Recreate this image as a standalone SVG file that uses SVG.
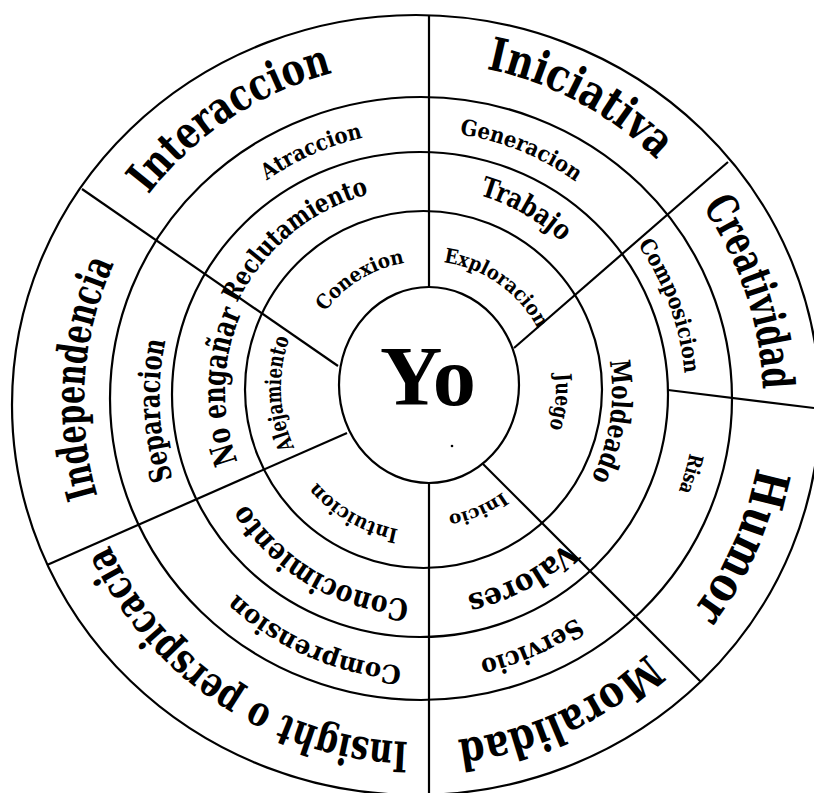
<svg xmlns="http://www.w3.org/2000/svg" xmlns:xlink="http://www.w3.org/1999/xlink" width="814" height="793" viewBox="0 0 814 793">
<style>
.ring{fill:none;stroke:#000;stroke-width:2.2}
.div{stroke:#000;stroke-width:2.2;fill:none}
.lbl{font-family:"DejaVu Serif Condensed","DejaVu Serif",serif;font-weight:bold;text-anchor:middle;fill:#000}
.yo{font-family:"Liberation Serif","Times New Roman",serif;font-weight:bold;text-anchor:middle;fill:#000}
</style>
<defs>
<path id="r340" d="M0,-340 A340,340 0 0 1 0,340"/>
<path id="r345" d="M0,-345 A345,345 0 0 1 0,345"/>
<path id="r334" d="M0,-334 A334,334 0 0 1 0,334"/>
<path id="r265" d="M0,-265 A265,265 0 0 1 0,265"/>
<path id="r270" d="M0,-270 A270,270 0 0 1 0,270"/>
<path id="r275" d="M0,-275 A275,275 0 0 1 0,275"/>
<path id="r261" d="M0,-261 A261,261 0 0 1 0,261"/>
<path id="r205" d="M0,-205 A205,205 0 0 1 0,205"/>
<path id="r208" d="M0,-208 A208,208 0 0 1 0,208"/>
<path id="r190" d="M0,-190 A190,190 0 0 1 0,190"/>
<path id="r197" d="M0,-197 A197,197 0 0 1 0,197"/>
<path id="r126" d="M0,-126 A126,126 0 0 1 0,126"/>
<path id="r130" d="M0,-130 A130,130 0 0 1 0,130"/>
<path id="r145" d="M0,-145 A145,145 0 0 1 0,145"/>
</defs>
<rect width="814" height="793" fill="#fff"/>
<g id="rings">
<ellipse class="ring" cx="416" cy="405" rx="404" ry="390"/>
<ellipse class="ring" cx="421" cy="398.5" rx="311" ry="301.5"/>
<ellipse class="ring" cx="420" cy="394.5" rx="248" ry="242.5"/>
<ellipse class="ring" cx="423.5" cy="389.5" rx="178.5" ry="178.5"/>
</g>
<g id="connectors">
<line class="div" x1="429" y1="15" x2="429" y2="287"/>
<line class="div" x1="429" y1="483" x2="429" y2="795"/>
<line class="div" x1="82" y1="189" x2="338" y2="366"/>
<line class="div" x1="47" y1="565" x2="347" y2="433"/>
<line class="div" x1="483" y1="464" x2="701" y2="682"/>
<line class="div" x1="514" y1="348" x2="728" y2="162"/>
<line class="div" x1="668" y1="390" x2="814" y2="408"/>
</g>
<g id="yo">
<ellipse class="ring" cx="429" cy="385" rx="90" ry="98"/>
<text class="yo" x="428" y="405" font-size="84" textLength="96" lengthAdjust="spacingAndGlyphs">Yo</text>
<circle cx="452" cy="446" r="1.3" fill="#000"/>
</g>
<g id="interaccion">
<text class="lbl" font-size="44" transform="translate(418,402) rotate(-123.5)"><textPath href="#r340" startOffset="50%" textLength="225" lengthAdjust="spacingAndGlyphs">Interaccion</textPath></text>
<text class="lbl" font-size="22" transform="translate(420.5,396.5) rotate(-114)"><textPath href="#r265" startOffset="50%" textLength="106" lengthAdjust="spacingAndGlyphs">Atraccion</textPath></text>
<text class="lbl" font-size="26" transform="translate(422,392) rotate(-129.7)"><textPath href="#r205" startOffset="50%" textLength="176" lengthAdjust="spacingAndGlyphs">Reclutamiento</textPath></text>
<text class="lbl" font-size="20" transform="translate(426,387) rotate(-121.6)"><textPath href="#r126" startOffset="50%" textLength="96" lengthAdjust="spacingAndGlyphs">Conexion</textPath></text>
</g>
<g id="iniciativa">
<text class="lbl" font-size="46" transform="translate(418,402) rotate(-61.9)"><textPath href="#r340" startOffset="50%" textLength="196" lengthAdjust="spacingAndGlyphs">Iniciativa</textPath></text>
<text class="lbl" font-size="22" transform="translate(420.5,396.5) rotate(-67.8)"><textPath href="#r265" startOffset="50%" textLength="127" lengthAdjust="spacingAndGlyphs">Generacion</textPath></text>
<text class="lbl" font-size="28" transform="translate(422,392) rotate(-60.4)"><textPath href="#r205" startOffset="50%" textLength="96" lengthAdjust="spacingAndGlyphs">Trabajo</textPath></text>
<text class="lbl" font-size="20" transform="translate(426,387) rotate(-54.8)"><textPath href="#r126" startOffset="50%" textLength="120" lengthAdjust="spacingAndGlyphs">Exploracion</textPath></text>
</g>
<g id="creatividad">
<text class="lbl" font-size="44" transform="translate(418,402) rotate(-18.3)"><textPath href="#r345" startOffset="50%" textLength="195" lengthAdjust="spacingAndGlyphs">Creatividad</textPath></text>
<text class="lbl" font-size="22" transform="translate(420.5,396.5) rotate(-20)"><textPath href="#r265" startOffset="50%" textLength="139" lengthAdjust="spacingAndGlyphs">Composicion</textPath></text>
</g>
<g id="humor">
<text class="lbl" font-size="48" transform="translate(418,402) rotate(24)"><textPath href="#r345" startOffset="50%" textLength="158" lengthAdjust="spacingAndGlyphs">Humor</textPath></text>
<text class="lbl" font-size="20" transform="translate(420.5,396.5) rotate(16)"><textPath href="#r275" startOffset="50%" textLength="40" lengthAdjust="spacingAndGlyphs">Risa</textPath></text>
</g>
<g id="juego">
<text class="lbl" font-size="28" transform="translate(422,392) rotate(8.8)"><textPath href="#r190" startOffset="50%" textLength="121" lengthAdjust="spacingAndGlyphs">Moldeado</textPath></text>
<text class="lbl" font-size="22" transform="translate(426,387) rotate(6.4)"><textPath href="#r130" startOffset="50%" textLength="55" lengthAdjust="spacingAndGlyphs">Juego</textPath></text>
</g>
<g id="moralidad">
<text class="lbl" font-size="44" transform="translate(418,402) rotate(65.5)"><textPath href="#r340" startOffset="50%" textLength="212" lengthAdjust="spacingAndGlyphs">Moralidad</textPath></text>
<text class="lbl" font-size="26" transform="translate(420.5,396.5) rotate(66.1)"><textPath href="#r270" startOffset="50%" textLength="106" lengthAdjust="spacingAndGlyphs">Servicio</textPath></text>
<text class="lbl" font-size="30" transform="translate(422,392) rotate(61.8)"><textPath href="#r208" startOffset="50%" textLength="115" lengthAdjust="spacingAndGlyphs">Valores</textPath></text>
<text class="lbl" font-size="18" transform="translate(426,387) rotate(67)"><textPath href="#r130" startOffset="50%" textLength="60" lengthAdjust="spacingAndGlyphs">Inicio</textPath></text>
</g>
<g id="insight">
<text class="lbl" font-size="42" transform="translate(418,402) rotate(123.4)"><textPath href="#r340" startOffset="50%" textLength="377" lengthAdjust="spacingAndGlyphs">Insight o perspicacia</textPath></text>
<text class="lbl" font-size="26" transform="translate(420.5,396.5) rotate(113.5)"><textPath href="#r270" startOffset="50%" textLength="184" lengthAdjust="spacingAndGlyphs">Comprension</textPath></text>
<text class="lbl" font-size="30" transform="translate(422,392) rotate(120.6)"><textPath href="#r208" startOffset="50%" textLength="196" lengthAdjust="spacingAndGlyphs">Conocimiento</textPath></text>
<text class="lbl" font-size="20" transform="translate(426,387) rotate(119.9)"><textPath href="#r145" startOffset="50%" textLength="96" lengthAdjust="spacingAndGlyphs">Intuicion</textPath></text>
</g>
<g id="independencia">
<text class="lbl" font-size="42" transform="translate(418,402) rotate(184.1)"><textPath href="#r334" startOffset="50%" textLength="238" lengthAdjust="spacingAndGlyphs">Independencia</textPath></text>
<text class="lbl" font-size="30" transform="translate(420.5,396.5) rotate(177)"><textPath href="#r261" startOffset="50%" textLength="140" lengthAdjust="spacingAndGlyphs">Separacion</textPath></text>
<text class="lbl" font-size="32" transform="translate(422,392) rotate(181.5)"><textPath href="#r197" startOffset="50%" textLength="153" lengthAdjust="spacingAndGlyphs">No engañar</textPath></text>
<text class="lbl" font-size="22" transform="translate(426,387) rotate(177.4)"><textPath href="#r145" startOffset="50%" textLength="112" lengthAdjust="spacingAndGlyphs">Alejamiento</textPath></text>
</g>
</svg>
